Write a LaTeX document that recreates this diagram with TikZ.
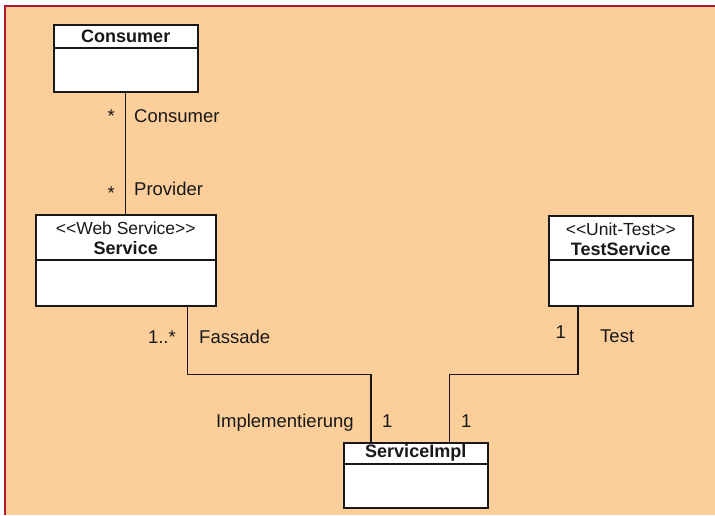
\documentclass[tikz,border=0pt]{standalone}
\usepackage{fontspec}
\setmainfont{Liberation Sans}
\usetikzlibrary{positioning,calc}
\definecolor{peach}{RGB}{252,206,154}
\definecolor{framered}{RGB}{178,24,48}
\definecolor{ink}{RGB}{24,24,24}
\tikzset{
    classbox/.style = {draw=ink, fill=white, line width=1.5pt,
        anchor=north west, inner sep=0pt},
    classname/.style = {font=\fontsize{18}{20}\selectfont\bfseries, text=ink, inner sep=0pt},
    stereo/.style = {font=\fontsize{17.5}{20}\selectfont, text=ink, inner sep=0pt},
    role/.style = {font=\fontsize{18.5}{20}\selectfont, text=ink, inner sep=0pt},
    assoc/.style = {draw=ink, line width=1.4pt}
}
\def\divider#1#2{%
    \draw[assoc] ([yshift=-#2]#1.north west) -- ([yshift=-#2]#1.north east)
}

\begin{document}
\begin{tikzpicture}[x=1pt, y=-1pt]
        \useasboundingbox (0,0) rectangle (715,515);
        \fill[white] (0,0) rectangle (715,515);
        \fill[peach] (5,6) rectangle (715,515);
        \draw[framered, line width=1.5pt] (5,515) -- (5,6) -- (715,6);
        % classes
        \node[classbox, minimum width=144pt, minimum height=67pt] (consumer) at (53,24) {};
        \divider{consumer}{24pt};
        \node[classname] (consumername) at ([yshift=-12pt]consumer.north) {Consumer};
        \node[classbox, minimum width=180pt, minimum height=91pt] (service) at (35,214) {};
        \divider{service}{46pt};
        \node[stereo] (servicestereo) at ([yshift=-14pt]service.north) {{<}{<}Web Service{>}{>}};
        \node[classname] (servicename) at ([yshift=-34pt]service.north) {Service};
        \node[classbox, minimum width=144pt, minimum height=90pt] (testservice) at (548,215) {};
        \divider{testservice}{45pt};
        \node[stereo] (teststereo) at ([yshift=-14pt]testservice.north) {{<}{<}Unit-Test{>}{>}};
        \node[classname] (testname) at ([yshift=-34pt]testservice.north) {TestService};
        \node[classbox, minimum width=144pt, minimum height=65pt] (impl) at (343,442) {};
        \divider{impl}{22pt};
        \node[classname] (implname) at ([yshift=-11pt]impl.north) {ServiceImpl};
        % associations
        \draw[assoc] (consumer.south) -- (service.north);
        \draw[assoc] ([xshift=-29pt]service.south east) -- ++(0,68) -| ([xshift=28pt]impl.north west);
        \draw[assoc] ([xshift=30pt]testservice.south west) -- ++(0,68) -| ([xshift=-39pt]impl.north east);
        % roles and multiplicities
        \node[role, anchor=base east] (consumermult) at (115,122) {*};
        \node[role, anchor=base west] (consumerrole) at (134,122) {Consumer};
        \node[role, anchor=base east] (providermult) at (115,199) {*};
        \node[role, anchor=base west] (providerrole) at (134,195) {Provider};
        \node[role, anchor=base east] (fassademult) at (176,343) {1..*};
        \node[role, anchor=base west] (fassaderole) at (199,343) {Fassade};
        \node[role, anchor=base east] (testmult) at (566,338) {1};
        \node[role, anchor=base west] (testrole) at (600,342) {Test};
        \node[role, anchor=base east] (implrole) at (354,427) {Implementierung};
        \node[role, anchor=base west] (implmult) at (382,427) {1};
        \node[role, anchor=base west] (testimplmult) at (461,427) {1};
\end{tikzpicture}
\end{document}
